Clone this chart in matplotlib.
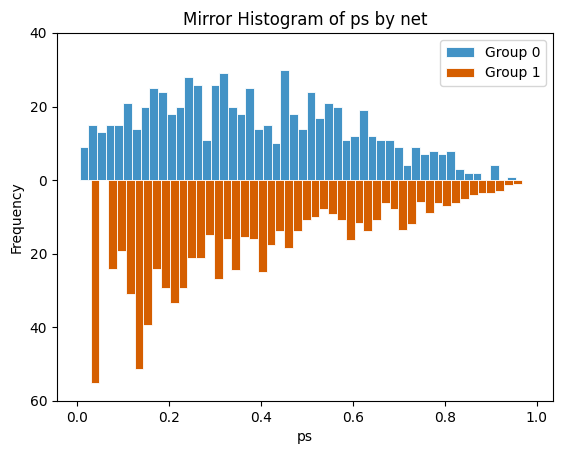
import numpy as np
import matplotlib
matplotlib.use('Agg')
import matplotlib.pyplot as plt

# histogram counts (50 bins per group)
g0_range = (0.005, 0.955)
g0_counts = [9, 15, 13, 15, 15, 21, 14, 20, 25, 24,
             18, 20, 28, 26, 11, 26, 29, 20, 18, 25,
             14, 15, 10, 30, 18, 14, 24, 17, 21, 20,
             11, 12, 19, 12, 11, 11, 9, 4, 9, 7,
             8, 7, 8, 3, 2, 2, 0, 4, 0, 1]

g1_range = (0.029, 0.986)
g1_counts = [55.1, 0, 24.2, 19.3, 31.0, 51.3, 39.4, 24.2, 29.4, 33.4,
             29.4, 21.2, 21.2, 15.0, 26.9, 16.1, 24.5, 15.5, 16.1, 25.0,
             17.7, 13.9, 18.5, 13.9, 10.9, 10.1, 7.7, 9.3, 10.9, 16.3,
             11.7, 13.9, 10.7, 6.3, 7.9, 13.4, 12.0, 6.0, 9.0, 6.3,
             6.9, 6.3, 5.2, 4.1, 3.6, 3.6, 2.8, 1.4, 0.9, 0]

labels = ['Group 0', 'Group 1']
yticks = [40, 20, 0, -20, -40, -60]

fig = plt.figure(figsize=(5.62, 4.55), dpi=100)
ax = fig.add_axes([57/562, 1-401/455, 496/562, 368/455])

e0 = np.linspace(g0_range[0], g0_range[1], len(g0_counts) + 1)
e1 = np.linspace(g1_range[0], g1_range[1], len(g1_counts) + 1)

ax.bar(e0[:-1], g0_counts, width=np.diff(e0), align='edge',
       color='#4393c6', edgecolor='white', linewidth=0.6, label=labels[0])
ax.bar(e1[:-1], -np.array(g1_counts), width=np.diff(e1), align='edge',
       color='#d55e00', edgecolor='white', linewidth=0.6, label=labels[1])

ax.set_xlim(-0.044, 1.035)
ax.set_ylim(-60, 40)
ax.set_yticks(yticks)
ax.set_yticklabels([str(abs(t)) for t in yticks])
ax.set_title('Mirror Histogram of ps by net')
ax.set_xlabel('ps')
ax.set_ylabel('Frequency')
ax.legend(loc='upper right')

fig.savefig('out.png', dpi=100)
